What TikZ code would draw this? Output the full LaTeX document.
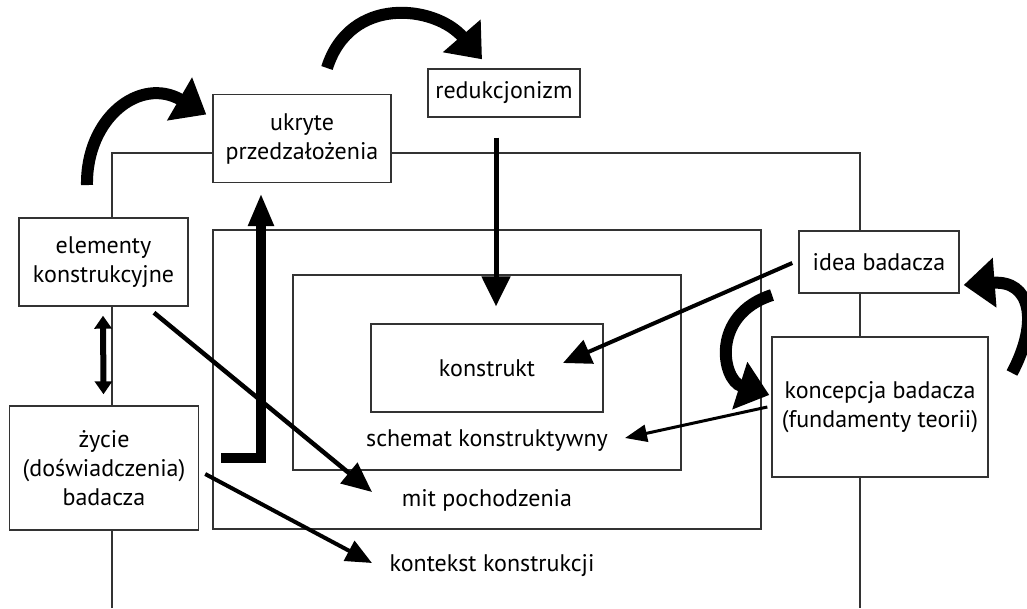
\documentclass[tikz,border=0pt]{standalone}
\usepackage{fontspec}
\setmainfont{PT Sans}
\usetikzlibrary{arrows.meta}
\begin{document}
\begin{tikzpicture}[x=1pt,y=-1pt,font=\fontsize{24}{29}\selectfont]
\tikzset{
  frame/.style={draw=black!80,line width=1.4pt},
  box/.style={frame,fill=white,align=center,inner sep=0pt},
  lbl/.style={inner sep=0pt},
  bigarc/.style={line width=12pt,-{Triangle[length=31pt,width=48pt]}},
  midarrow/.style={line width=4.5pt,-{Triangle[length=30pt,width=26pt]}},
  thinarrow/.style={line width=3pt,-{Triangle[length=22pt,width=17pt]}},
}
\useasboundingbox (0,0) rectangle (1027,608);
\fill[white] (0,0) rectangle (1027,608);
% frames
\draw[frame] (112,608) -- (112,153) -- (860,153) -- (860,608);
\draw[frame] (213,230) rectangle (761,529);
\draw[frame] (293,275) rectangle (681,470);
% boxes
\node[box,minimum width=178pt,minimum height=88pt] (ukryte) at (302,138.5) {ukryte\\przedzałożenia};
\node[box,minimum width=152pt,minimum height=48pt] (redu) at (504,93) {redukcjonizm};
\node[box,minimum width=169pt,minimum height=88pt] (elem) at (103.5,262) {elementy\\konstrukcyjne};
\node[box,minimum width=189pt,minimum height=124pt] (zycie) at (104,468) {życie\\(doświadczenia)\\badacza};
\node[box,minimum width=160pt,minimum height=62pt] (idea) at (879,262) {idea badacza};
\node[box,minimum width=216pt,minimum height=140pt] (konc) at (880,407) {koncepcja badacza\\(fundamenty teorii)};
\node[box,minimum width=232pt,minimum height=88pt] (konstrukt) at (487,368) {konstrukt};
% labels
\node[lbl] (schemat) at (487,441) {schemat konstruktywny};
\node[lbl] (mit) at (487,500) {mit pochodzenia};
\node[lbl] (kontekst) at (492,566) {kontekst konstrukcji};
% free ends
\coordinate (aTail) at (87,185);
\coordinate (bTail) at (327,68);
\coordinate (cTail) at (772,295);
\coordinate (dTail) at (1012,373);
\coordinate (Lstart) at (221,458);
\coordinate (mitTip) at (372,492);
\coordinate (kontTip) at (372,563);
\coordinate (schTip) at (625,438);
% curved thick arrows
\draw[bigarc] (aTail) .. controls (86,118) and (140,76) .. ([xshift=-6pt,yshift=24pt]ukryte.west);
\draw[bigarc] (bTail) .. controls (350,-5) and (435,5) .. ([xshift=-22pt,yshift=9pt]redu.north);
\draw[bigarc] (cTail) .. controls (710,315) and (722,380) .. ([xshift=-2pt,yshift=12pt]konc.west);
\draw[bigarc] (dTail) .. controls (1040,320) and (1030,280) .. ([xshift=4pt,yshift=-23pt]idea.east);
% straight arrows
\draw[line width=5pt,-{Triangle[length=30pt,width=28pt]}] ([xshift=-8pt,yshift=-20pt]redu.south) -- ([xshift=9pt,yshift=17pt]konstrukt.north);
\draw[line width=10pt,miter limit=10,-{Triangle[length=33pt,width=24pt]}] (Lstart) -| ([xshift=-41pt,yshift=-10pt]ukryte.south);
\draw[line width=6pt,{Triangle[length=13pt,width=17pt]}-{Triangle[length=13pt,width=17pt]}] ([xshift=-0.5pt,yshift=-9pt]elem.south) -- ([xshift=-0.5pt,yshift=11pt]zycie.north);
\draw[midarrow] ([xshift=50.5pt,yshift=-6pt]elem.south) -- (mitTip);
\draw[line width=4pt,-{Triangle[length=26pt,width=22pt]}] ([xshift=6pt,yshift=-6pt]zycie.east) -- (kontTip);
\draw[line width=4pt,-{Triangle[length=28pt,width=25pt]}] ([xshift=-6pt,yshift=-1pt]idea.west) -- ([xshift=76pt,yshift=5pt]konstrukt.center);
\draw[thinarrow] ([xshift=-4pt]konc.west) -- (schTip);
\end{tikzpicture}
\end{document}
